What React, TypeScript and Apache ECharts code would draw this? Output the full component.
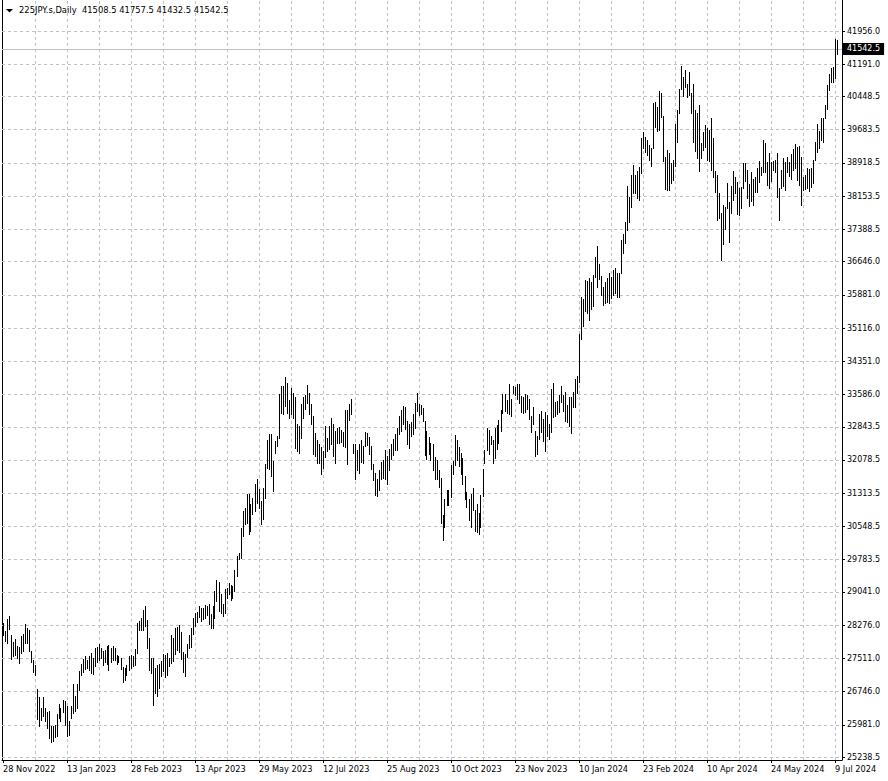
import React, { useEffect, useRef } from "react";
import * as echarts from "echarts";

const symbolName = "225JPY.s,Daily";
const lastOpen = 41508.5;
const lastHigh = 41757.5;
const lastLow = 41432.5;
const lastClose = 41542.5;

const dateLabels = [
  "28 Nov 2022", "13 Jan 2023", "28 Feb 2023", "13 Apr 2023", "29 May 2023",
  "12 Jul 2023", "25 Aug 2023", "10 Oct 2023", "23 Nov 2023", "10 Jan 2024",
  "23 Feb 2024", "10 Apr 2024", "24 May 2024", "9 Jul 2024",
];

const priceTicks = [
  41956.0, 41191.0, 40448.5, 39683.5, 38918.5, 38153.5, 37388.5, 36646.0,
  35881.0, 35116.0, 34351.0, 33586.0, 32843.5, 32078.5, 31313.5, 30548.5,
  29783.5, 29041.0, 28276.0, 27511.0, 26746.0, 25981.0, 25238.5,
];

const highs = [
  28327, 28135, 28419, 28496, 28058, 27882, 27958, 27789, 27774, 28020,
  28074, 28312, 28212, 28173, 27690, 27482, 27367, 26814, 26614, 26369,
  26614, 26369, 26269, 26292, 25962, 25946, 25985, 26230, 26461, 26369,
  26561, 26538, 26407, 26062, 26407, 26922, 26637, 26922, 27213, 27390,
  27498, 27559, 27482, 27559, 27636, 27521, 27751, 27774, 27851, 27751,
  27674, 27713, 27789, 27828, 27751, 27789, 27751, 27598, 27559, 27521,
  27313, 27290, 27367, 27559, 27590, 27559, 27728, 28327, 28365, 28442,
  28634, 28726, 28404, 27982, 27521, 27521, 27290, 27367, 27390, 27444,
  27613, 27598, 27636, 27521, 28050, 27970, 28215, 28240, 28290, 28125,
  27650, 27600, 27850, 28047, 28216, 28431, 28546, 28585, 28715, 28677,
  28677, 28738, 28715, 28753, 28523, 28715, 29061, 29314, 29276, 28984,
  28769, 29099, 29122, 29253, 29199, 29176, 29537, 29867, 29943, 30519,
  30903, 30964, 31287, 31302, 31056, 31210, 31517, 31632, 31402, 31133,
  31440, 31977, 32530, 32668, 32668, 32054, 32515, 32630, 33589, 33781,
  33781, 33989, 33858, 33451, 33743, 33628, 33528, 32899, 32860, 33359,
  33528, 33574, 33804, 33628, 33359, 33090, 32707, 32530, 32453, 32377,
  32285, 32860, 32592, 32860, 33037, 32899, 32745, 32822, 32841, 32764,
  32726, 33225, 33240, 33378, 33478, 32442, 32457, 32304, 32442, 32534,
  32396, 32726, 32703, 32611, 32396, 31997, 31782, 31651, 31843, 32035,
  32089, 32304, 32166, 32342, 32442, 32572, 32688, 32826, 33087, 33225,
  33317, 33302, 32979, 32903, 32956, 33148, 33401, 33632, 33378, 33355,
  33286, 32979, 32749, 32611, 32473, 32442, 32150, 32089, 31843, 31674,
  30807, 31191, 31383, 31383, 31958, 32058, 32649, 32534, 32380, 32242,
  32135, 31705, 31344, 31191, 31290, 31444, 30937, 31076, 30861, 31268,
  31881, 32304, 32826, 32780, 32626, 32549, 32826, 32879, 32995, 33225,
  33593, 33609, 33455, 33839, 33484, 33791, 33752, 33829, 33829, 33560,
  33522, 33599, 33576, 33484, 33100, 33307, 32754, 32639, 33138, 33215,
  33023, 33176, 33115, 32908, 33714, 33852, 33407, 33445, 33576, 33791,
  33576, 33637, 33346, 33522, 33522, 33637, 33944, 34021, 34980, 35824,
  35786, 36231, 36208, 36262, 36170, 36339, 36746, 36999, 36592, 36317,
  36071, 36186, 36263, 36378, 36302, 36455, 36494, 36378, 36394, 37146,
  37284, 37568, 38390, 38144, 38643, 38873, 38643, 38743, 38835, 39487,
  39641, 39510, 39449, 39334, 39257, 40293, 40332, 40216, 40585, 40523,
  40001, 39065, 39218, 39142, 38911, 38988, 39817, 40140, 40615, 41153,
  40892, 41061, 40738, 41022, 40520, 40728, 40137, 40060, 40252, 39369,
  39638, 39791, 39714, 39676, 39945, 39499, 38732, 38640, 38218, 37757,
  37949, 37911, 38448, 38026, 38394, 38732, 38601, 38486, 38348, 38371,
  38908, 38908, 38755, 38425, 38717, 38548, 38601, 38809, 38962, 38832,
  39446, 39369, 38947, 39139, 38947, 38962, 38985, 39154, 38333, 38755,
  39039, 38947, 39062, 38947, 39116, 39238, 39346, 39292, 39315, 39062,
  38601, 38640, 38809, 38778, 38793, 38985, 39392, 39806, 39653, 39945,
  39960, 40252, 40712, 40958, 41111, 41135, 41772, 41757.5,
];

const lows = [
  28043, 27905, 27866, 28189, 27498, 27559, 27598, 27521, 27405, 27636,
  27674, 27866, 27866, 27674, 27421, 27190, 27137, 26115, 25962, 26084,
  26192, 26062, 25908, 25677, 25578, 25601, 25693, 25716, 26138, 26062,
  26269, 25985, 25716, 25754, 26138, 26253, 26292, 26369, 26791, 27137,
  27190, 27267, 27290, 27252, 27175, 27160, 27344, 27421, 27482, 27521,
  27367, 27421, 27390, 27252, 27421, 27482, 27482, 27390, 27421, 27275,
  26968, 27021, 27137, 27252, 27290, 27329, 27367, 27636, 28173, 28158,
  28173, 28250, 27751, 27252, 27175, 26446, 26714, 26637, 26830, 27098,
  27213, 27083, 27137, 27329, 27400, 27450, 27600, 27700, 27650, 27500,
  27200, 27100, 27550, 27756, 27779, 28078, 28255, 28354, 28462, 28370,
  28408, 28446, 28508, 28308, 28201, 28216, 28446, 28830, 28600, 28562,
  28485, 28562, 28907, 28984, 28846, 28907, 29061, 29406, 29790, 29828,
  30327, 30596, 30634, 30366, 30442, 30826, 30903, 31095, 30980, 30596,
  30711, 31210, 31901, 31863, 31709, 31363, 32246, 32399, 32592, 33167,
  33129, 33321, 33167, 33037, 33129, 33052, 32361, 32285, 32246, 32592,
  33052, 33244, 33397, 33129, 32899, 32208, 32169, 32016, 32016, 31747,
  31901, 32146, 32285, 32323, 32438, 32169, 32016, 32476, 32473, 32496,
  32396, 32380, 31981, 32995, 33148, 32242, 31651, 31843, 31782, 32035,
  32012, 32396, 32419, 32227, 31881, 31628, 31268, 31244, 31383, 31651,
  31674, 31651, 31536, 31843, 32112, 32189, 32304, 32319, 32688, 32749,
  32918, 32803, 32442, 32365, 32626, 32672, 32826, 33210, 33110, 33148,
  32979, 32189, 32112, 32227, 32073, 31843, 31651, 31651, 31459, 30630,
  30246, 30538, 31037, 31037, 31229, 31766, 31958, 32089, 31935, 31766,
  31536, 31191, 30999, 30707, 30538, 30922, 30446, 30423, 30369, 30538,
  31244, 32012, 32304, 32227, 32457, 32012, 32135, 32342, 32473, 32749,
  33164, 33210, 33164, 33148, 33100, 33622, 33576, 33484, 33392, 33192,
  33161, 33176, 33253, 33023, 32716, 32908, 32178, 32217, 32562, 32716,
  32524, 32294, 32639, 32562, 32716, 33061, 33100, 33138, 33176, 33407,
  33215, 32985, 32962, 32869, 32701, 33292, 33292, 33622, 33867, 34865,
  35157, 35518, 35464, 35311, 35556, 35633, 36285, 36055, 36247, 35880,
  35649, 35703, 35726, 35688, 35803, 35880, 35918, 35826, 35826, 36378,
  36839, 37069, 37376, 37568, 37914, 38221, 38221, 38105, 38067, 38681,
  39257, 39180, 39103, 38988, 38850, 39257, 39756, 39664, 39679, 39986,
  38973, 38313, 38297, 38297, 38466, 38528, 38850, 39410, 40063, 40615,
  40462, 40677, 40447, 40485, 40060, 39407, 39193, 39039, 38732, 39039,
  39216, 39292, 38985, 38962, 38755, 38601, 38256, 37603, 37642, 36682,
  37043, 37396, 37888, 37089, 37757, 38064, 38218, 37734, 37719, 37872,
  38333, 38501, 38103, 37934, 38041, 37949, 38256, 38256, 38486, 38640,
  38717, 38717, 38410, 38348, 38502, 38755, 38717, 38141, 37603, 38333,
  38394, 38294, 38717, 38624, 38548, 38755, 38793, 38525, 38410, 37949,
  38294, 38317, 38333, 38271, 38371, 38448, 38985, 39177, 39254, 39446,
  39392, 39945, 40160, 40597, 40774, 40789, 40881, 41432.5,
];

const FONT = "DejaVu Sans";
const GRID_COLOR = "#c0c0c0";
const LABEL_STEP = 32;
const GRID_STEP = 16;
const EMPTY_SLOTS = 2;
const Y_MIN = 25170;
const Y_MAX = 42670;

export default function App() {
  const ref = useRef<HTMLDivElement>(null);

  useEffect(() => {
    if (!ref.current) return;
    const chart = echarts.init(ref.current, null, { renderer: "svg" });
    const n = highs.length;
    const cats = Array.from({ length: n + EMPTY_SLOTS }, (_, i) => String(i));
    const data = highs.map((h, i) => [i, h, lows[i]]);
    const showLabel = (i: number) => i % LABEL_STEP === 0 && i < n;

    const gridV: any[] = [];
    for (let i = GRID_STEP; i < n; i += GRID_STEP) gridV.push({ xAxis: i });
    const gridH = priceTicks.map((v) => ({ yAxis: v }));

    const renderItem = (params: any, api: any) => {
      const i = api.value(0);
      const top = api.coord([i, api.value(1)]);
      const bot = api.coord([i, api.value(2)]);
      const x = Math.floor(top[0]) + 0.5;
      return {
        type: "line",
        shape: { x1: x, y1: Math.round(top[1]), x2: x, y2: Math.round(bot[1]) + 1 },
        style: { stroke: "#000", lineWidth: 1 },
      };
    };

    chart.setOption({
      animation: false,
      backgroundColor: "#ffffff",
      grid: { left: 2, right: 46, top: 0, bottom: 21 },
      graphic: [
        {
          type: "polygon",
          shape: { points: [[6, 9], [13, 9], [9.5, 12.5]] },
          style: { fill: "#000" },
          z: 100,
        },
        {
          type: "text",
          x: 19,
          y: 10,
          z: 100,
          style: {
            text: `${symbolName}  ${lastOpen.toFixed(1)} ${lastHigh.toFixed(1)} ${lastLow.toFixed(1)} ${lastClose.toFixed(1)}`,
            fill: "#000",
            font: `8.4px "${FONT}"`,
            verticalAlign: "middle",
          },
        },
      ],
      xAxis: {
        type: "category",
        data: cats,
        boundaryGap: true,
        axisLine: { show: true, lineStyle: { color: "#000", width: 1 } },
        axisTick: {
          show: true,
          alignWithLabel: true,
          interval: (i: number) => showLabel(i),
          length: 3,
          lineStyle: { color: "#000" },
        },
        axisLabel: {
          interval: (i: number) => showLabel(i),
          formatter: (v: string) => dateLabels[Number(v) / LABEL_STEP] ?? "",
          align: "left",
          margin: 5,
          fontSize: 8.2,
          fontFamily: FONT,
          color: "#000",
        },
        splitLine: { show: false },
      },
      yAxis: [
        {
          type: "value",
          position: "right",
          min: Y_MIN,
          max: Y_MAX,
          axisLine: { show: true, onZero: false, lineStyle: { color: "#000", width: 1 } },
          axisTick: { show: true, length: 3, customValues: priceTicks, lineStyle: { color: "#000" } },
          axisLabel: {
            show: true,
            customValues: priceTicks,
            formatter: (v: number) => v.toFixed(1),
            margin: 5,
            fontSize: 8,
            fontFamily: FONT,
            color: "#000",
          },
          splitLine: { show: false },
        },
        {
          type: "value",
          position: "left",
          min: Y_MIN,
          max: Y_MAX,
          axisLine: { show: true, onZero: false, lineStyle: { color: "#000", width: 1 } },
          axisTick: { show: false },
          axisLabel: { show: false },
          splitLine: { show: false },
        },
      ],
      series: [
        {
          type: "custom",
          renderItem,
          data,
          yAxisIndex: 0,
          z: 3,
          silent: true,
          markLine: {
            silent: true,
            z: 1,
            symbol: ["none", "none"],
            animation: false,
            label: { show: false },
            emphasis: { disabled: true },
            lineStyle: { color: GRID_COLOR, type: [3, 3], width: 1 },
            data: [
              ...gridV,
              ...gridH,
              {
                yAxis: lastClose,
                lineStyle: { color: GRID_COLOR, type: "solid", width: 1 },
                label: {
                  show: true,
                  position: "end",
                  distance: 1,
                  formatter: () => lastClose.toFixed(1),
                  backgroundColor: "#000",
                  color: "#fff",
                  padding: [2, 4, 2, 4],
                  fontSize: 8,
                  fontFamily: FONT,
                },
              },
            ],
          },
        },
      ],
    });

    return () => chart.dispose();
  }, []);

  return (
    <div
      ref={ref}
      style={{ position: "fixed", left: 0, top: 0, width: 888, height: 781, background: "#fff" }}
    />
  );
}
